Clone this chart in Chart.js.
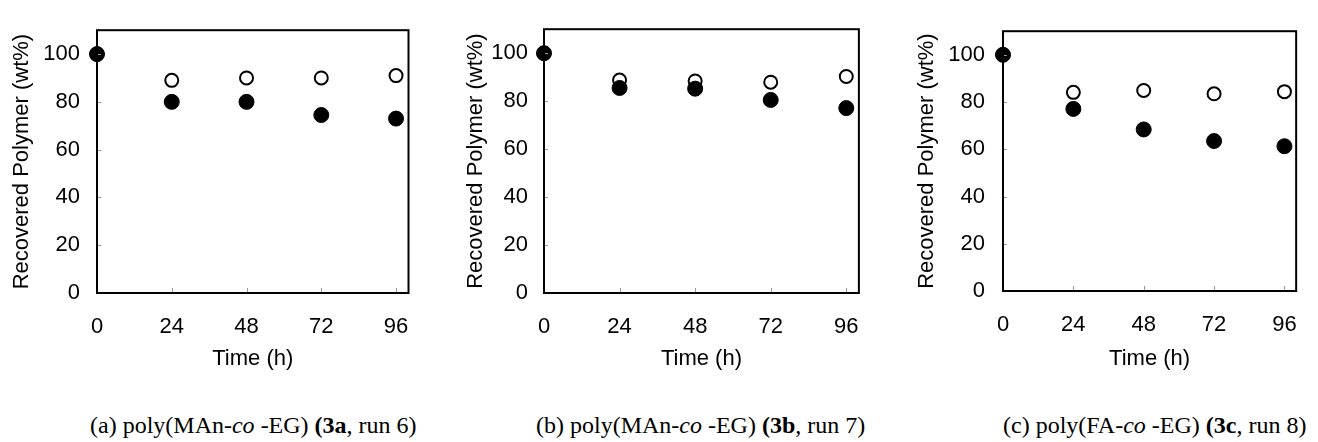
<!DOCTYPE html>
<html>
<head>
<meta charset="utf-8">
<script src="https://cdn.jsdelivr.net/npm/chart.js@4.4.1/dist/chart.umd.min.js"></script>
<style>
  body { margin: 0; background: #fff; }
  #wrap { position: relative; width: 1318px; height: 442px; overflow: hidden; }
  .painel { position: absolute; top: 0; }
  .legenda {
    position: absolute; top: 411px; white-space: nowrap;
    font-family: "Liberation Serif", "Times New Roman", serif; font-size: 24px; line-height: 28px; color: #000;
  }
</style>
</head>
<body>
<div id="wrap">
  <canvas id="graficoA" class="painel" style="left:0px" width="430" height="380"></canvas>
  <canvas id="graficoB" class="painel" style="left:440px" width="440" height="380"></canvas>
  <canvas id="graficoC" class="painel" style="left:880px" width="438" height="380"></canvas>
  <div class="legenda" style="left:90px">(a) poly(MAn-<i>co</i> -EG) <b>(3a</b>, run 6)</div>
  <div class="legenda" style="left:536px">(b) poly(MAn-<i>co</i> -EG) <b>(3b</b>, run 7)</div>
  <div class="legenda" style="left:1003px">(c) poly(FA-<i>co</i> -EG) <b>(3c</b>, run 8)</div>
</div>
<script>
// Tempo (h) e ticks dos eixos
const tempos = [0, 24, 48, 72, 96];
const ticksX = [0, 24, 48, 72, 96];
const ticksY = [0, 20, 40, 60, 80, 100];

// Valores (wt%)
const abertoA = [100, 89, 90, 90, 91];
const cheioA = [100, 80, 80, 74.5, 73];
const abertoB = [100, 88.8, 88.4, 87.9, 90.3];
const cheioB = [100, 85.5, 85.2, 80.5, 77.1];
const abertoC = [100, 84.1, 84.9, 83.5, 84.4];
const cheioC = [100, 77.1, 68.4, 63.5, 61.3];

const fonteEixo = { family: '"Liberation Sans", Arial, sans-serif', size: 22 };

// Caixa preta em volta da área do gráfico + ticks pequenos para dentro
const caixaPlugin = {
    id: 'caixa',
    afterDatasetsDraw(chart) {
        const { ctx, chartArea: a, scales } = chart;
        ctx.save();
        ctx.strokeStyle = '#999';
        ctx.lineWidth = 1;
        ticksX.slice(1).forEach(v => {
            const x = Math.round(scales.x.getPixelForValue(v)) + 0.5;
            ctx.beginPath(); ctx.moveTo(x, a.bottom); ctx.lineTo(x, a.bottom - 5); ctx.stroke();
        });
        ticksY.slice(1).forEach(v => {
            const y = Math.round(scales.y.getPixelForValue(v)) + 0.5;
            ctx.beginPath(); ctx.moveTo(a.left, y); ctx.lineTo(a.left + 4, y); ctx.stroke();
        });
        ctx.strokeStyle = '#000';
        ctx.lineWidth = 2;
        ctx.strokeRect(a.left, a.top, a.right - a.left, a.bottom - a.top);
        ctx.restore();
    }
};

function pontos(valores) {
    return tempos.map((t, i) => ({ x: t, y: valores[i] }));
}

function criarGrafico(id, cheio, aberto, area, tituloPad, labelPad) {
    const canvas = document.getElementById(id);
    new Chart(canvas.getContext('2d'), {
        type: 'scatter',
        data: {
            datasets: [
                {
                    data: pontos(cheio),
                    pointRadius: 7.5,
                    pointBackgroundColor: '#000',
                    pointBorderColor: '#000',
                    pointBorderWidth: 1,
                    clip: false
                },
                {
                    data: pontos(aberto),
                    pointRadius: 6.5,
                    pointBackgroundColor: '#fff',
                    pointBorderColor: '#000',
                    pointBorderWidth: 2,
                    clip: false
                }
            ]
        },
        options: {
            responsive: false,
            animation: false,
            devicePixelRatio: 1,
            layout: { padding: { top: area.top, right: canvas.width - area.right, left: 0, bottom: 0 } },
            plugins: { legend: { display: false }, tooltip: { enabled: false } },
            scales: {
                x: {
                    type: 'linear', min: 0, max: 100,
                    afterBuildTicks: s => { s.ticks = ticksX.map(v => ({ value: v })); },
                    afterFit: s => { s.height = canvas.height - area.bottom; },
                    grid: { display: false, drawTicks: false },
                    border: { display: false },
                    ticks: { color: '#000', font: fonteEixo, padding: 21, maxRotation: 0 },
                    title: { display: true, text: 'Time (h)', color: '#000', font: fonteEixo, padding: { top: 8, bottom: 8 } }
                },
                y: {
                    type: 'linear', min: 0, max: 110,
                    afterBuildTicks: s => { s.ticks = ticksY.map(v => ({ value: v })); },
                    afterFit: s => { s.width = area.left; },
                    grid: { display: false, drawTicks: false },
                    border: { display: false },
                    ticks: { color: '#000', font: fonteEixo, padding: labelPad },
                    title: { display: true, text: 'Recovered Polymer (wt%)', color: '#000', font: fonteEixo, padding: { top: tituloPad, bottom: tituloPad } }
                }
            }
        },
        plugins: [caixaPlugin]
    });
}

criarGrafico('graficoA', cheioA, abertoA, { left: 97, right: 412, top: 18, bottom: 293 }, 9, 17);
criarGrafico('graficoB', cheioB, abertoB, { left: 104, right: 428, top: 13, bottom: 293 }, 23, 16);
criarGrafico('graficoC', cheioC, abertoC, { left: 123, right: 437, top: 16, bottom: 291 }, 34, 18);
</script>
</body>
</html>
